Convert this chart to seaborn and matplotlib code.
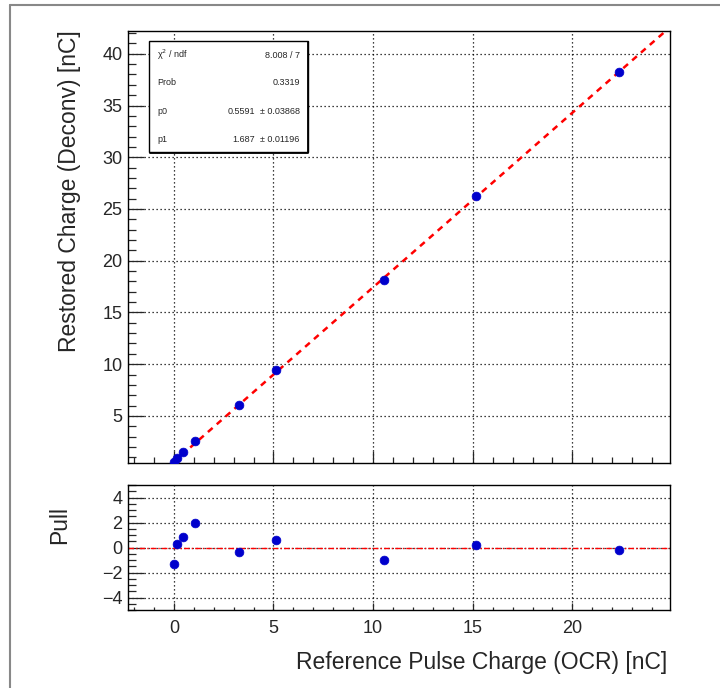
import matplotlib
matplotlib.use('Agg')
import matplotlib.pyplot as plt
import seaborn as sns
import pandas as pd
from matplotlib.lines import Line2D
from matplotlib.patches import Rectangle
from matplotlib.ticker import MultipleLocator

# ── data ─────────────────────────────────────────────────────────────────────
ref_charge = [0.0, 0.16, 0.47, 1.05, 3.27, 5.12, 10.55, 15.14, 22.35]
restored_charge = [0.50, 0.93, 1.50, 2.62, 6.03, 9.40, 18.15, 26.25, 38.20]
pulls = [-1.3, 0.32, 0.82, 2.0, -0.32, 0.61, -1.0, 0.18, -0.18]

fit_p0 = 0.5591
fit_p1 = 1.687
stat_labels = ['\u03c7$^2$ / ndf', 'Prob', 'p0', 'p1']
stat_values = ['8.008 / 7', '0.3319', '0.5591', '1.687']
stat_errors = ['', '', '\u00b1 0.03868', '\u00b1 0.01196']

df = pd.DataFrame({'x': ref_charge, 'y': restored_charge, 'pull': pulls})

sns.set_theme(style='white')
plt.rcParams['font.family'] = ['Liberation Sans', 'DejaVu Sans']
plt.rcParams['axes.edgecolor'] = 'black'
plt.rcParams['axes.linewidth'] = 1.0

fig = plt.figure(figsize=(7.2, 6.88), dpi=100)
ax_top = fig.add_axes([128/720, 1-463/688, 542/720, 432/688])
ax_bot = fig.add_axes([128/720, 1-610/688, 542/720, 125/688])

blue = '#0000cc'
grid_kw = dict(color='black', linestyle=(0, (1, 2.2)), linewidth=0.9)

# ── top panel: restored vs reference ─────────────────────────────────────────
ax_top.axline((0, fit_p0), slope=fit_p1, color='#ff0000', linestyle=(0, (2.5, 2.2)),
              linewidth=1.8, zorder=2)
sns.scatterplot(data=df, x='x', y='y', ax=ax_top, color=blue, s=40,
                edgecolor=blue, linewidth=0.5, zorder=3, legend=False)
ax_top.set_xlim(-2.3, 24.9)
ax_top.set_ylim(0.45, 42.2)
ax_top.xaxis.set_major_locator(MultipleLocator(5))
ax_top.xaxis.set_minor_locator(MultipleLocator(1))
ax_top.yaxis.set_minor_locator(MultipleLocator(1))
ax_top.set_yticks([5, 10, 15, 20, 25, 30, 35, 40])
ax_top.grid(True, which='major', **grid_kw)
ax_top.set_xlabel('')
ax_top.set_ylabel('')
ax_top.tick_params(axis='x', which='major', direction='in', length=8.5, width=0.9,
                   labelbottom=False, bottom=True)
ax_top.tick_params(axis='x', which='minor', direction='in', length=4.3, width=0.9, bottom=True)
ax_top.tick_params(axis='y', which='major', direction='in', length=11.5, width=0.9,
                   labelsize=13, left=True, pad=4)
ax_top.tick_params(axis='y', which='minor', direction='in', length=6, width=0.9, left=True)

# stats box
ax_top.add_patch(Rectangle((0.039, 0.7206), 0.293, 0.257, transform=ax_top.transAxes,
                           facecolor='white', edgecolor='black', linewidth=1.0, zorder=5))
ax_top.add_line(Line2D([0.041, 0.333, 0.333], [0.718, 0.718, 0.975],
                       transform=ax_top.transAxes, color='black', linewidth=1.3, zorder=5))
row_y = [0.944, 0.880, 0.8125, 0.748]
for lab, val, err, ry in zip(stat_labels, stat_values, stat_errors, row_y):
    ax_top.text(0.0535, ry, lab, transform=ax_top.transAxes, fontsize=6.5,
                ha='left', va='center', zorder=6)
    if err:
        ax_top.text(0.234, ry, val, transform=ax_top.transAxes, fontsize=6.5,
                    ha='right', va='center', zorder=6)
        ax_top.text(0.317, ry, err, transform=ax_top.transAxes, fontsize=6.5,
                    ha='right', va='center', zorder=6)
    else:
        ax_top.text(0.317, ry, val, transform=ax_top.transAxes, fontsize=6.5,
                    ha='right', va='center', zorder=6)

# ── bottom panel: pulls ──────────────────────────────────────────────────────
ax_bot.axhline(0, color='#ff0000', linestyle=(0, (4, 1.5, 1, 1.5)), linewidth=1.0, zorder=2)
sns.scatterplot(data=df, x='x', y='pull', ax=ax_bot, color=blue, s=40,
                edgecolor=blue, linewidth=0.5, zorder=3, legend=False)
ax_bot.set_xlim(-2.3, 24.9)
ax_bot.set_ylim(-5, 5)
ax_bot.xaxis.set_major_locator(MultipleLocator(5))
ax_bot.xaxis.set_minor_locator(MultipleLocator(1))
ax_bot.set_yticks([-4, -2, 0, 2, 4])
ax_bot.yaxis.set_minor_locator(MultipleLocator(0.5))
ax_bot.grid(True, which='major', **grid_kw)
ax_bot.set_xlabel('')
ax_bot.set_ylabel('')
ax_bot.tick_params(axis='x', which='major', direction='in', length=5, width=0.9,
                   labelsize=13, bottom=True, pad=7)
ax_bot.tick_params(axis='x', which='minor', direction='in', length=2.5, width=0.9, bottom=True)
ax_bot.tick_params(axis='y', which='major', direction='in', length=11.5, width=0.9,
                   labelsize=13, left=True, pad=4)
ax_bot.tick_params(axis='y', which='minor', direction='in', length=6, width=0.9, left=True)
ax_bot.set_yticklabels(['\u22124', '\u22122', '0', '2', '4'])

# ── axis titles ──────────────────────────────────────────────────────────────
fig.text(70/720, 1-30/688, 'Restored Charge (Deconv) [nC]', rotation=90,
         ha='center', va='top', fontsize=16.5)
fig.text(60/720, 1-506/688, 'Pull', rotation=90, ha='center', va='top', fontsize=16.5)
fig.text(667/720, 1-662/688, 'Reference Pulse Charge (OCR) [nC]', ha='right',
         va='center', fontsize=16.5)

# canvas border (left & top edges, ROOT style)
fig.add_artist(Line2D([10/720, 10/720], [0, 1-5/688], transform=fig.transFigure,
                      color='#888888', linewidth=1.5))
fig.add_artist(Line2D([10/720, 1], [1-5/688, 1-5/688], transform=fig.transFigure,
                      color='#888888', linewidth=1.5))

fig.savefig('out.png', dpi=100)
